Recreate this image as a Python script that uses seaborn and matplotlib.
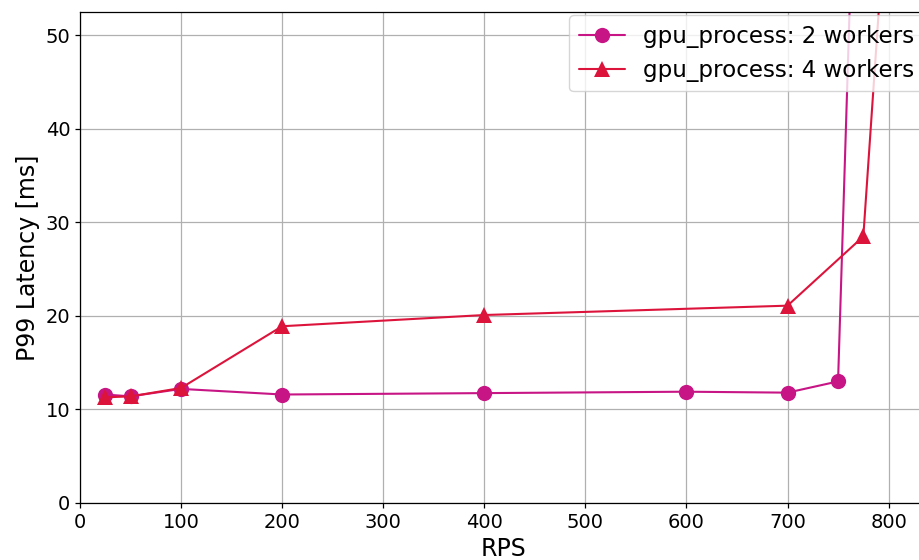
import seaborn as sns
import pandas as pd
import matplotlib.pyplot as plt

# P99 latency vs requests per second
rps_2w = [25, 50, 100, 200, 400, 600, 700, 750, 775]
p99_2w = [11.6, 11.4, 12.2, 11.6, 11.75, 11.9, 11.8, 13.0, 100.0]

rps_4w = [25, 50, 100, 200, 400, 700, 775, 800]
p99_4w = [11.3, 11.4, 12.3, 18.9, 20.1, 21.1, 28.5, 68.0]

labels = ["gpu_process: 2 workers", "gpu_process: 4 workers"]
colors = {labels[0]: "mediumvioletred", labels[1]: "crimson"}
markers = {labels[0]: "o", labels[1]: "^"}

df = pd.concat([
    pd.DataFrame({"rps": rps_2w, "p99": p99_2w, "config": labels[0]}),
    pd.DataFrame({"rps": rps_4w, "p99": p99_4w, "config": labels[1]}),
])

sns.set_theme(style="ticks")
plt.rcParams["font.family"] = ["DejaVu Sans"]
plt.rcParams["text.color"] = "black"
plt.rcParams["axes.labelcolor"] = "black"
plt.rcParams["xtick.color"] = "black"
plt.rcParams["ytick.color"] = "black"

fig = plt.figure(figsize=(9.2, 5.6), dpi=100)
# the original figure is cropped on the right, so the axes run past the edge
ax = fig.add_axes([80 / 920, 57 / 560, 847 / 920, 491 / 560])

sns.lineplot(data=df, x="rps", y="p99", hue="config", style="config",
             palette=colors, markers=markers, dashes=False, markersize=11,
             markeredgewidth=0, linewidth=1.5, sort=False, ax=ax)

ax.set_xlim(0, 838)
ax.set_ylim(0, 52.5)
ax.set_xticks(range(0, 900, 100))
ax.set_yticks(range(0, 60, 10))
ax.grid(True, color="#b0b0b0", linewidth=0.9)
ax.tick_params(labelsize=14, width=0.9, length=3.5)
for s in ax.spines.values():
    s.set_color("black")
    s.set_linewidth(0.9)
ax.set_xlabel("RPS", fontsize=17)
ax.set_ylabel("P99 Latency [ms]", fontsize=17)
ax.legend(loc="upper right", fontsize=16.6, title=None, frameon=True,
          borderaxespad=0.15)

fig.savefig("out.png", dpi=100)
